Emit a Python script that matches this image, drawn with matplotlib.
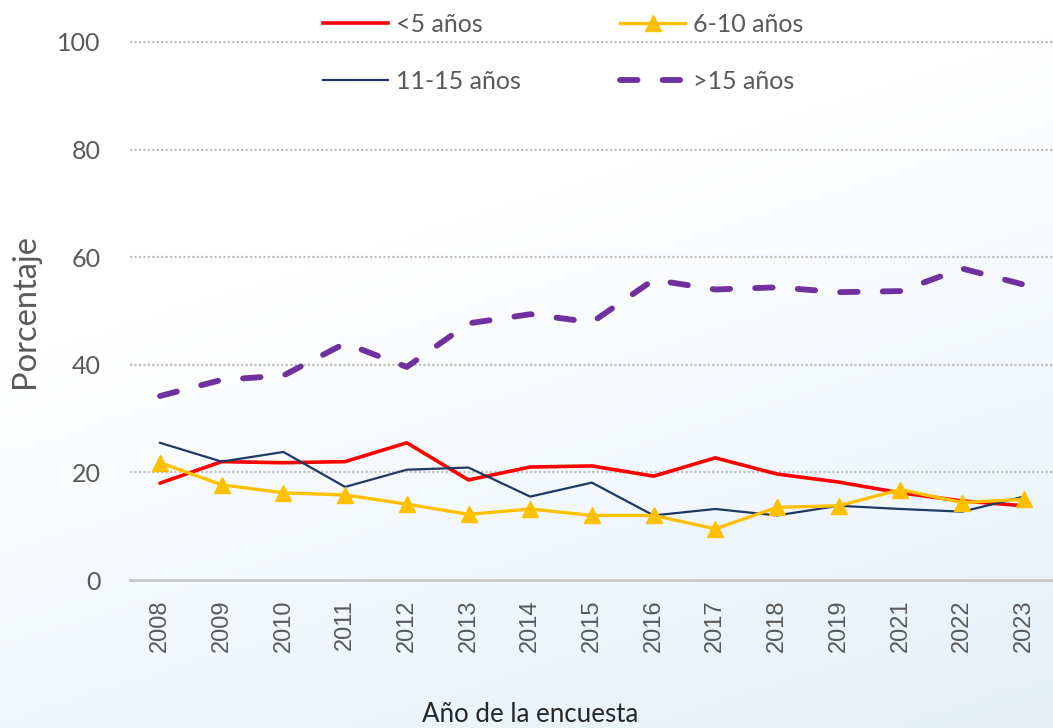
import numpy as np
import matplotlib
matplotlib.use("Agg")
import matplotlib.pyplot as plt
from matplotlib.lines import Line2D

years = ["2008", "2009", "2010", "2011", "2012", "2013", "2014", "2015",
         "2016", "2017", "2018", "2019", "2021", "2022", "2023"]
menos5 = [18.0, 22.0, 21.8, 22.0, 25.5, 18.6, 21.0, 21.2, 19.3, 22.7, 19.7, 18.2, 16.2, 14.7, 13.8]
de6a10 = [21.8, 17.7, 16.2, 15.8, 14.1, 12.2, 13.2, 12.0, 12.0, 9.5, 13.5, 13.8, 16.8, 14.4, 15.0]
de11a15 = [25.5, 22.0, 23.8, 17.3, 20.5, 20.9, 15.5, 18.1, 12.0, 13.2, 12.0, 13.8, 13.2, 12.7, 15.5]
mas15 = [34.2, 37.2, 38.0, 44.0, 39.6, 47.7, 49.4, 47.9, 55.8, 54.0, 54.4, 53.5, 53.7, 57.9, 54.9]
labels = ["<5 años", "6-10 años", "11-15 años", ">15 años"]
yticks = [0, 20, 40, 60, 80, 100]

W, H = 1053, 728
fig = plt.figure(figsize=(W / 100, H / 100), dpi=100)

# subtle background gradient
bg = fig.add_axes([0, 0, 1, 1], zorder=-10)
yy, xx = np.mgrid[0:1:200j, 0:1:300j]
t = np.clip((yy * 1.1 + xx * 0.5 - 0.55), 0, 1)
c0 = np.array([1.0, 1.0, 1.0])
c1 = np.array([0.90, 0.945, 0.98])
img = c0[None, None, :] * (1 - t[..., None]) + c1[None, None, :] * t[..., None]
bg.imshow(img, extent=[0, 1, 0, 1], origin="upper", aspect="auto")
bg.axis("off")

gray = "#595959"
fam = ["Lato", "DejaVu Sans"]

ax = fig.add_axes([130 / W, 1 - 580 / H, 1 - 130 / W, (580 - 42) / H])
ax.patch.set_alpha(0)
x = np.arange(len(years))

ax.plot(x, menos5, color="#FF0000", lw=2.6, solid_capstyle="round", zorder=3)
ax.plot(x, de11a15, color="#1F3864", lw=1.6, zorder=4)
ax.plot(x, de6a10, color="#FFC000", lw=2.4, marker="^", markersize=11,
        markeredgecolor="#FFC000", zorder=5)
ln, = ax.plot(x, mas15, color="#7030A0", lw=4.2, dash_capstyle="round", zorder=3)
ln.set_dashes([3.0, 4.3])

ax.set_xlim((130 - 160) / 61.7, (1053 - 160) / 61.7)
ax.set_ylim(0, 100)
ax.set_yticks(yticks)
ax.set_yticklabels([str(v) for v in yticks], fontsize=18, color=gray, family=fam)
ax.set_xticks(x)
ax.set_xticklabels(years, rotation=90, fontsize=17, color=gray,
                   family=["Liberation Sans", "DejaVu Sans"])
ax.tick_params(axis="y", length=0, pad=21)
ax.tick_params(axis="x", length=0, pad=14)
for y in yticks[1:]:
    ax.axhline(y, color="#BFBFBF", lw=1.6, ls=(0, (1, 1)), zorder=1, clip_on=False)
for s in ["top", "right", "left"]:
    ax.spines[s].set_visible(False)
ax.spines["bottom"].set_color("#C8C8C8")
ax.spines["bottom"].set_linewidth(2)

ax.set_ylabel("Porcentaje", fontsize=23.5, color=gray, family=fam)
ax.yaxis.set_label_coords((40 - 130) / (W - 130), 0.5)

fig.text(530 / W, 1 - 714 / H, "Año de la encuesta", fontsize=18.6, color="#262626",
         family=fam, ha="center", va="center")

handles = [
    Line2D([], [], color="#FF0000", lw=2.6),
    Line2D([], [], color="#1F3864", lw=1.6),
    Line2D([], [], color="#FFC000", lw=2.4, marker="^", markersize=11),
    Line2D([], [], color="#7030A0", lw=4.2, dashes=[3.0, 4.3], dash_capstyle="round"),
]
order_labels = [labels[0], labels[2], labels[1], labels[3]]
leg = fig.legend(handles, order_labels, ncol=2, loc="upper left",
                 bbox_to_anchor=(323 / W, 1 - 13 / H), frameon=False,
                 prop={"family": fam, "size": 18}, labelcolor=gray,
                 handlelength=2.6, handletextpad=0.3, columnspacing=4.0,
                 labelspacing=1.35, borderpad=0, borderaxespad=0)

fig.savefig("out.png", dpi=100)
